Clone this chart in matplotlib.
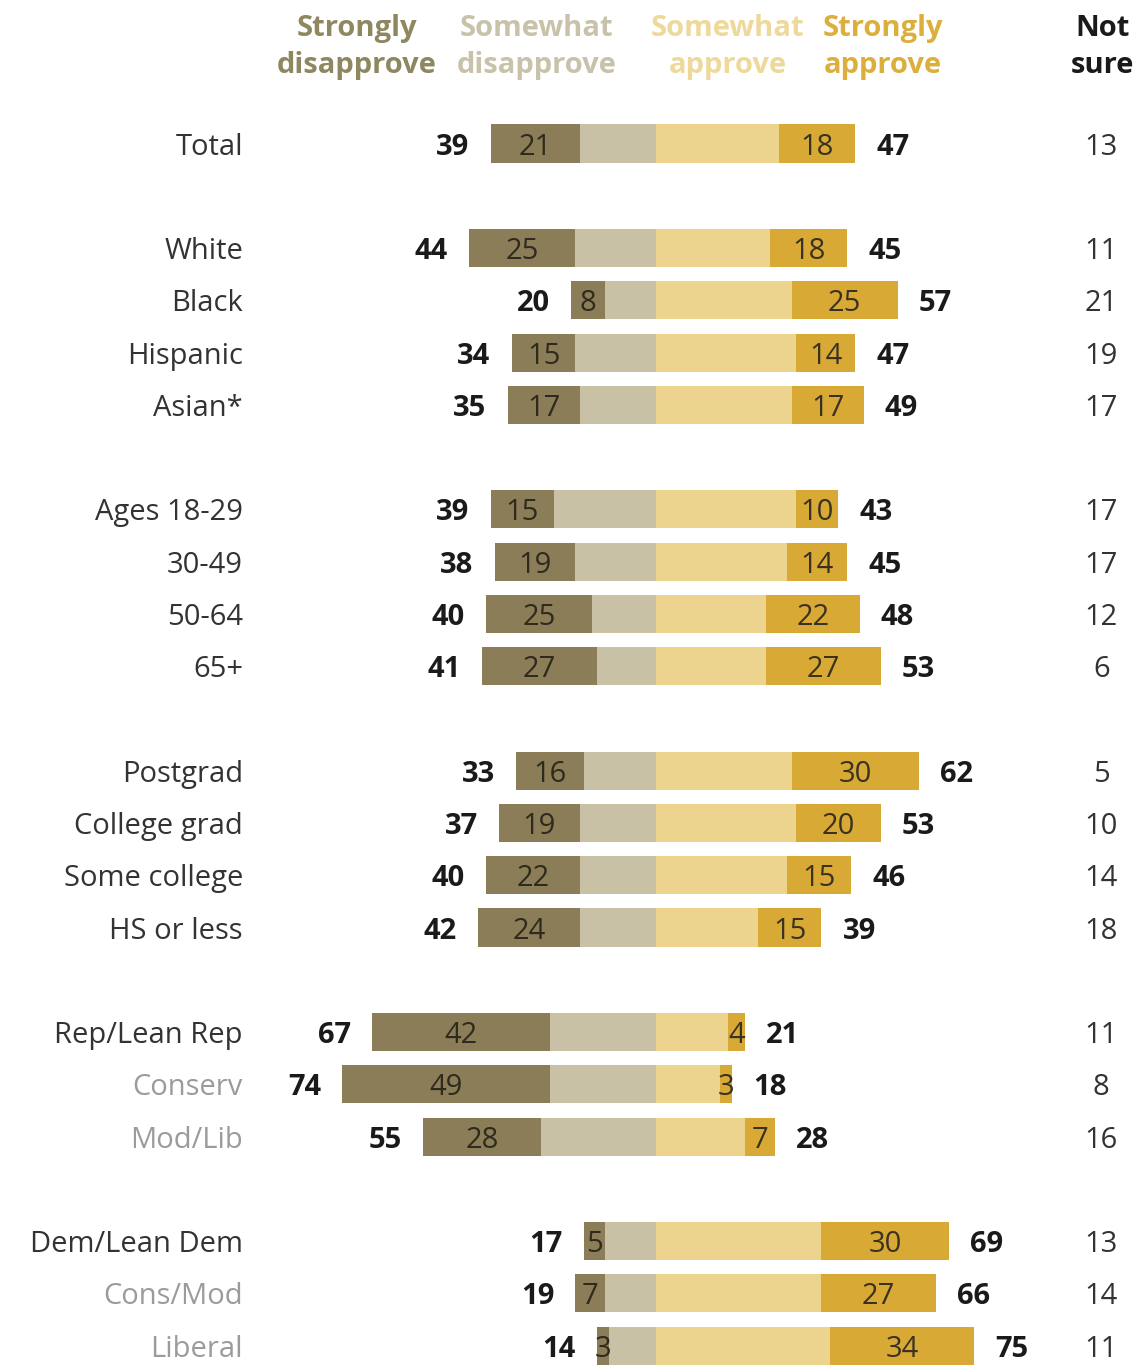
import matplotlib.pyplot as plt
import numpy as np

# Survey data (percent)
groups = ['Total',
          'White', 'Black', 'Hispanic', 'Asian*',
          'Ages 18-29', '30-49', '50-64', '65+',
          'Postgrad', 'College grad', 'Some college', 'HS or less',
          'Rep/Lean Rep', 'Conserv', 'Mod/Lib',
          'Dem/Lean Dem', 'Cons/Mod', 'Liberal']
rows = [0, 2, 3, 4, 5, 7, 8, 9, 10, 12, 13, 14, 15, 17, 18, 19, 21, 22, 23]
sub_groups = ['Conserv', 'Mod/Lib', 'Cons/Mod', 'Liberal']

strongly_dis = [21, 25, 8, 15, 17, 15, 19, 25, 27, 16, 19, 22, 24, 42, 49, 28, 5, 7, 3]
total_dis = [39, 44, 20, 34, 35, 39, 38, 40, 41, 33, 37, 40, 42, 67, 74, 55, 17, 19, 14]
strongly_app = [18, 18, 25, 14, 17, 10, 14, 22, 27, 30, 20, 15, 15, 4, 3, 7, 30, 27, 34]
total_app = [47, 45, 57, 47, 49, 43, 45, 48, 53, 62, 53, 46, 39, 21, 18, 28, 69, 66, 75]
not_sure = [13, 11, 21, 19, 17, 17, 17, 12, 6, 5, 10, 14, 18, 11, 8, 16, 13, 14, 11]

sd = np.array(strongly_dis)
td = np.array(total_dis)
sa = np.array(strongly_app)
ta = np.array(total_app)
y = np.array(rows) * 1.0

# Colors
c_sd = '#8a7d58'
c_swd = '#c9c1a6'
c_swa = '#ecd38e'
c_sa = '#d9a936'

plt.rcParams['font.family'] = ['Open Sans', 'DejaVu Sans']

fig = plt.figure(figsize=(11.36, 13.65), dpi=100)
ax = fig.add_axes([0, 0, 1, 1])
ax.set_xlim(-154.7, 113.2)
ax.set_ylim(23.37, -2.746)
ax.axis('off')

h = 0.73
ax.barh(y, -(td - sd), left=0, height=h, color=c_swd)
ax.barh(y, -sd, left=-(td - sd), height=h, color=c_sd)
ax.barh(y, ta - sa, left=0, height=h, color=c_swa)
ax.barh(y, sa, left=ta - sa, height=h, color=c_sa)

fs = 21
va = 'center_baseline'
for i in range(len(groups)):
    col = '#9b9b9b' if groups[i] in sub_groups else '#333333'
    ax.text(-97.4, y[i], groups[i], ha='right', va=va, fontsize=fs, color=col)
    # totals
    ax.text(-td[i] - 5.0, y[i], str(td[i]), ha='right', va=va,
            fontsize=fs, fontweight='bold', color='#1a1a1a')
    ax.text(ta[i] + 5.0, y[i], str(ta[i]), ha='left', va=va,
            fontsize=fs, fontweight='bold', color='#1a1a1a')
    # inner labels
    ax.text(-(td[i] - sd[i]) - sd[i] / 2, y[i], str(sd[i]), ha='center', va=va,
            fontsize=fs, color='#2e2a1c')
    ax.text(ta[i] - sa[i] / 2, y[i], str(sa[i]), ha='center', va=va,
            fontsize=fs, color='#3a3220')
    ax.text(105.0, y[i], str(not_sure[i]), ha='center', va=va,
            fontsize=fs, color='#333333')

# header
hy = -1.85
hdr = dict(ha='center', va='center', fontsize=fs, fontweight='bold', linespacing=1.38)
ax.text(-70.6, hy, 'Strongly\ndisapprove', color='#8f8760', **hdr)
ax.text(-28.1, hy, 'Somewhat\ndisapprove', color='#c8c2ab', **hdr)
ax.text(16.9, hy, 'Somewhat\napprove', color='#eed89a', **hdr)
ax.text(53.5, hy, 'Strongly\napprove', color='#dcae3c', **hdr)
ax.text(105.4, hy, 'Not\nsure', color='#1a1a1a', **hdr)

fig.savefig('out.png', dpi=100)
